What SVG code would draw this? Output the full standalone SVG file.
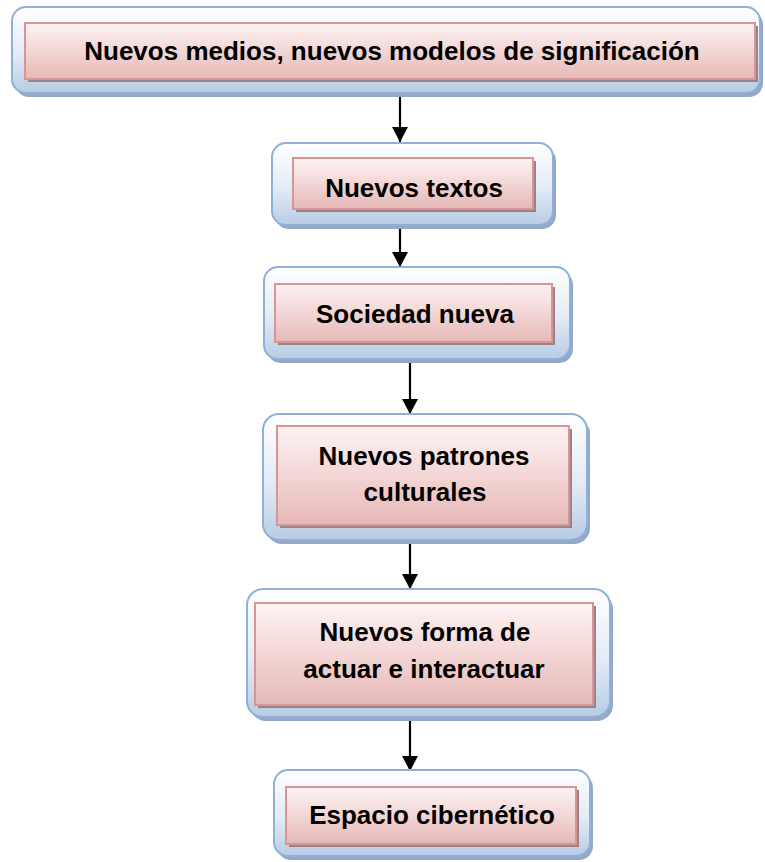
<svg xmlns="http://www.w3.org/2000/svg" width="765" height="862" viewBox="0 0 765 862">
<defs>
<linearGradient id="gOut" x1="0" y1="0" x2="0" y2="1">
<stop offset="0" stop-color="#ffffff"/>
<stop offset="0.55" stop-color="#e3ebf5"/>
<stop offset="1" stop-color="#b8cce4"/>
</linearGradient>
<linearGradient id="gIn" x1="0" y1="0" x2="0" y2="1">
<stop offset="0" stop-color="#fdf3f3"/>
<stop offset="0.4" stop-color="#f5dcdb"/>
<stop offset="1" stop-color="#e5b8b7"/>
</linearGradient>
<marker id="ah" markerWidth="15" markerHeight="16" refX="15" refY="8" orient="auto" markerUnits="userSpaceOnUse" viewBox="0 0 15 16">
<path d="M0,0 L15,8 L0,16 Z" fill="#000"/>
</marker>
</defs>
<style>
.osh{fill:#95a9c6;}
.out{fill:url(#gOut);stroke:#8eb0d9;stroke-width:2;}
.ish{fill:#9a8288;}
.in{fill:url(#gIn);stroke:#d99594;stroke-width:2;}
.t{font-family:"Liberation Sans",Arial,sans-serif;font-weight:bold;font-size:26px;fill:#000;text-anchor:middle;}
.c{stroke:#000;stroke-width:2.2;fill:none;}
</style>
<g id="connectors">
<line class="c" x1="400" y1="94" x2="400" y2="142" marker-end="url(#ah)"/>
<line class="c" x1="400" y1="224" x2="400" y2="267" marker-end="url(#ah)"/>
<line class="c" x1="410" y1="359" x2="410" y2="414" marker-end="url(#ah)"/>
<line class="c" x1="410" y1="542" x2="410" y2="589" marker-end="url(#ah)"/>
<line class="c" x1="410" y1="716" x2="410" y2="771" marker-end="url(#ah)"/>
</g>
<g id="n1">
<rect class="osh" x="15" y="11" width="748" height="86" rx="14"/>
<rect class="out" x="12" y="7" width="748" height="86" rx="14"/>
<rect class="ish" x="28" y="26" width="730" height="56"/>
<rect class="in" x="25" y="23" width="730" height="56"/>
<text class="t" x="392" y="60">Nuevos medios, nuevos modelos de significación</text>
</g>
<g id="n2">
<rect class="osh" x="275" y="147" width="281" height="82" rx="14"/>
<rect class="out" x="272" y="143" width="281" height="82" rx="14"/>
<rect class="ish" x="296" y="161" width="240" height="51"/>
<rect class="in" x="293" y="158" width="240" height="51"/>
<text class="t" x="414" y="197">Nuevos textos</text>
</g>
<g id="n3">
<rect class="osh" x="267" y="271" width="306" height="92" rx="14"/>
<rect class="out" x="264" y="267" width="306" height="92" rx="14"/>
<rect class="ish" x="278" y="287" width="277" height="58"/>
<rect class="in" x="275" y="284" width="277" height="58"/>
<text class="t" x="415" y="323">Sociedad nueva</text>
</g>
<g id="n4">
<rect class="osh" x="266" y="418" width="324" height="126" rx="16"/>
<rect class="out" x="263" y="414" width="324" height="126" rx="16"/>
<rect class="ish" x="280" y="429" width="292" height="99"/>
<rect class="in" x="277" y="426" width="292" height="99"/>
<text class="t" x="424" y="465">Nuevos patrones</text>
<text class="t" x="425" y="501">culturales</text>
</g>
<g id="n5">
<rect class="osh" x="250" y="593" width="363" height="128" rx="16"/>
<rect class="out" x="247" y="589" width="363" height="128" rx="16"/>
<rect class="ish" x="258" y="606" width="338" height="102"/>
<rect class="in" x="255" y="603" width="338" height="102"/>
<text class="t" x="425" y="641">Nuevos forma de</text>
<text class="t" x="424" y="678">actuar e interactuar</text>
</g>
<g id="n6">
<rect class="osh" x="277" y="774" width="316" height="86" rx="14"/>
<rect class="out" x="274" y="770" width="316" height="86" rx="14"/>
<rect class="ish" x="289" y="790" width="290" height="57"/>
<rect class="in" x="286" y="787" width="290" height="57"/>
<text class="t" x="432" y="824">Espacio cibernético</text>
</g>
</svg>
